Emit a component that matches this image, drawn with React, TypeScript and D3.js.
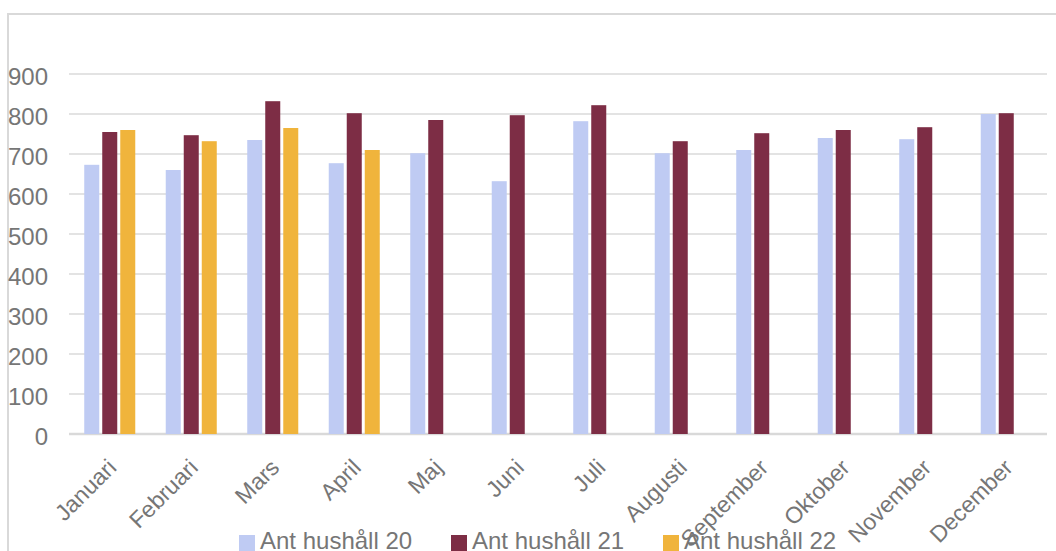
import React, { useRef, useEffect } from 'react';
import * as d3 from 'd3';

const months = ['Januari', 'Februari', 'Mars', 'April', 'Maj', 'Juni', 'Juli', 'Augusti', 'September', 'Oktober', 'November', 'December'];
const seriesNames = ['Ant hushåll 20', 'Ant hushåll 21', 'Ant hushåll 22'];
const hh20 = [673, 660, 735, 677, 702, 632, 782, 702, 710, 740, 737, 800];
const hh21 = [755, 747, 832, 802, 785, 797, 822, 732, 752, 760, 767, 802];
const hh22 = [760, 732, 765, 710, null, null, null, null, null, null, null, null];
const yTicks = [0, 100, 200, 300, 400, 500, 600, 700, 800, 900];
const colors = ['#bfcbf3', '#7d2d45', '#f0b43c'];

const W = 1056;
const H = 551;
const FONT = '"Liberation Sans", Arial, sans-serif';

const App = () => {
  const svgRef = useRef<SVGSVGElement>(null);

  useEffect(() => {
    const svg = d3.select(svgRef.current);
    svg.selectAll('*').remove();

    const margin = { top: 74, right: 9, bottom: 117, left: 69 };
    const values = [hh20, hh21, hh22];

    const x0 = d3.scaleBand<string>()
      .domain(months)
      .range([margin.left, W - margin.right])
      .paddingInner(0.374)
      .paddingOuter(0.187);
    const x1 = d3.scaleBand<string>()
      .domain(seriesNames)
      .range([0, x0.bandwidth()])
      .paddingInner(1 / 6);
    const y = d3.scaleLinear().domain([0, 900]).range([H - margin.bottom, margin.top]);

    // outer chart frame (cut off at right and bottom)
    svg.append('rect')
      .attr('x', 8).attr('y', 14)
      .attr('width', W + 20).attr('height', H + 20)
      .attr('fill', 'none')
      .attr('stroke', '#d9d9d9')
      .attr('stroke-width', 2);

    // gridlines
    svg.append('g')
      .selectAll('line')
      .data(yTicks)
      .enter()
      .append('line')
      .attr('x1', margin.left)
      .attr('x2', W - margin.right)
      .attr('y1', d => y(d))
      .attr('y2', d => y(d))
      .attr('stroke', d => (d === 0 ? '#d9d9d9' : '#e3e3e3'))
      .attr('stroke-width', d => (d === 0 ? 2.5 : 2));

    // y labels
    svg.append('g')
      .selectAll('text')
      .data(yTicks)
      .enter()
      .append('text')
      .attr('x', 48)
      .attr('y', d => y(d) + 11)
      .attr('text-anchor', 'end')
      .attr('font-family', FONT)
      .attr('font-size', 24)
      .attr('fill', '#767676')
      .text(d => d);

    // bars
    seriesNames.forEach((name, si) => {
      const data = months
        .map((m, i) => ({ m, v: values[si][i] }))
        .filter(d => d.v != null);
      svg.append('g')
        .selectAll('rect')
        .data(data)
        .enter()
        .append('rect')
        .attr('x', d => (x0(d.m) as number) + (x1(name) as number))
        .attr('y', d => y(d.v as number))
        .attr('width', x1.bandwidth())
        .attr('height', d => y(0) - y(d.v as number))
        .attr('fill', colors[si]);
    });

    // x labels
    svg.append('g')
      .selectAll('text')
      .data(months)
      .enter()
      .append('text')
      .attr('transform', d => {
        const cx = (x0(d) as number) + x0.bandwidth() / 2 + 8;
        return `translate(${cx},${y(0) + 35}) rotate(-45)`;
      })
      .attr('text-anchor', 'end')
      .attr('font-family', FONT)
      .attr('font-size', 23)
      .attr('fill', '#767676')
      .text(d => d);

    // legend
    const legend = svg.append('g');
    seriesNames.forEach((name, i) => {
      const lx = 239 + i * 212;
      legend.append('rect')
        .attr('x', lx).attr('y', 535)
        .attr('width', 16).attr('height', 16)
        .attr('fill', colors[i]);
      legend.append('text')
        .attr('x', lx + 21)
        .attr('y', 549)
        .attr('font-family', FONT)
        .attr('font-size', 24)
        .attr('fill', '#767676')
        .text(name);
    });
  }, []);

  return (
    <svg
      ref={svgRef}
      width={W}
      height={H}
      style={{ position: 'absolute', left: 0, top: 0, background: '#fff' }}
    />
  );
};

export default App;
